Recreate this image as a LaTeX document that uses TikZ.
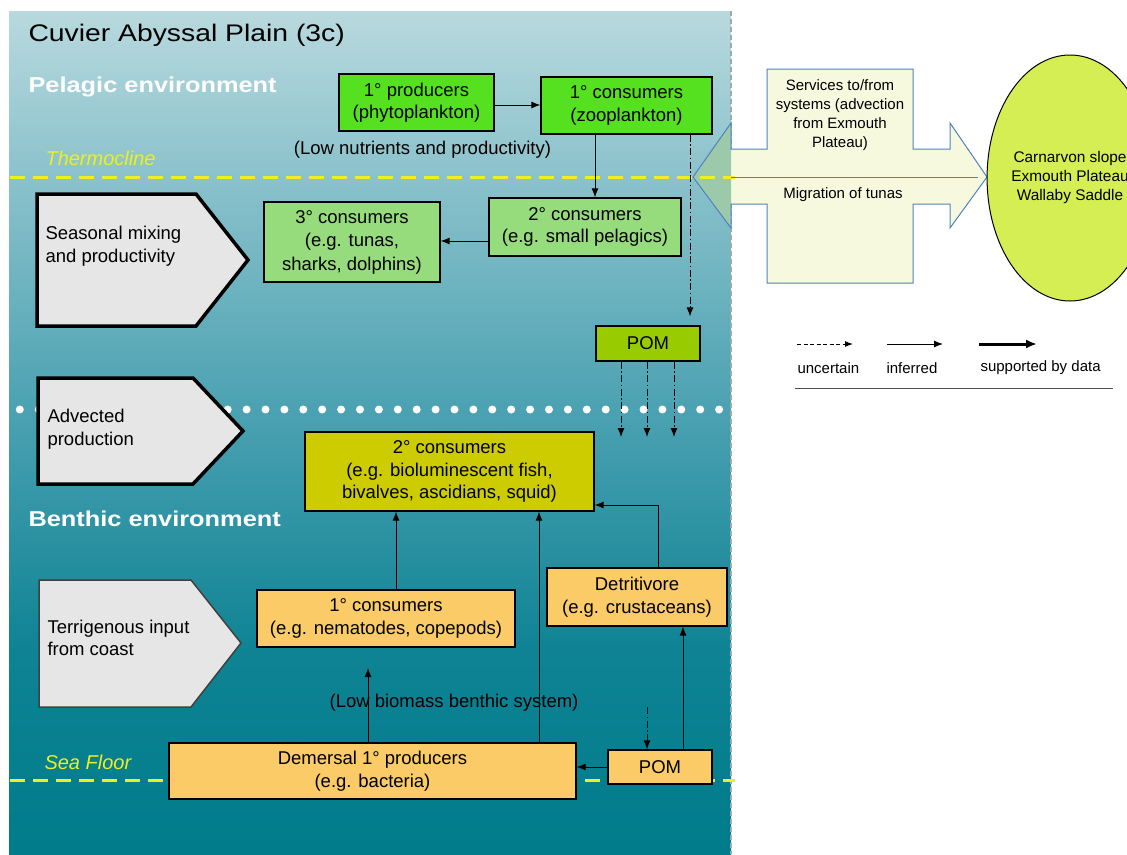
\documentclass[tikz,border=0pt]{standalone}
\usepackage{fontspec}
\setmainfont{Liberation Sans}
\newfontfamily\headfont{Liberation Sans}[FakeStretch=1.18]
\usetikzlibrary{arrows.meta,shapes.geometric,calc}

\definecolor{seaA}{HTML}{B8D9DE}
\definecolor{seaB}{HTML}{4EA3B3}
\definecolor{seaC}{HTML}{0E8394}
\definecolor{seaD}{HTML}{007C8B}
\definecolor{bgreen}{HTML}{55E020}
\definecolor{lgreen}{HTML}{96DC7D}
\definecolor{pomgreen}{HTML}{99CC00}
\definecolor{olive}{HTML}{CCCC00}
\definecolor{sand}{HTML}{FACB67}
\definecolor{pale}{HTML}{E6E6E6}
\definecolor{lime}{HTML}{D4EE54}
\definecolor{cream}{HTML}{F6F9DE}
\definecolor{sage}{HTML}{9CC9AA}
\definecolor{steel}{HTML}{4F81BD}
\definecolor{marker}{HTML}{EEEE22}

\pgfdeclareverticalshading{sea}{100bp}{color(0bp)=(seaD); color(25bp)=(seaD); color(37bp)=(seaC); color(52bp)=(seaB); color(75bp)=(seaA); color(100bp)=(seaA)}

\tikzset{
  txt/.style={font=\fontsize{18.5}{22.5}\selectfont},
  small/.style={font=\fontsize{15}{19}\selectfont},
  box/.style={draw=black, line width=1.2pt, align=center, inner sep=0pt, txt},
  pent/.style={fill=pale, draw=black, line width=3.5pt, line join=miter},
  penthin/.style={fill=pale, draw=black!75, line width=1.5pt},
  layerline/.style={draw=marker, line width=3pt, dash pattern=on 15pt off 8pt},
  conn/.style={-{Latex[length=9pt,width=7pt]}, line width=1pt},
  dd/.style={conn, dash pattern=on 7pt off 2.5pt on 1.5pt off 2.5pt},
  lbl/.style={anchor=west, txt, align=left},
  services/.style={insert path={(693,177) -- (731,123) -- (731,149) -- (767,149) -- (767,69) -- (913,69) -- (913,149)
  -- (950,149) -- (950,123) -- (987,177) -- (950,228) -- (950,204) -- (913,204)
  -- (913,283) -- (767,283) -- (767,204) -- (731,204) -- (731,228) -- cycle}},
}

\begin{document}
\begin{tikzpicture}[x=1pt,y=-1pt]
\useasboundingbox (0,0) rectangle (1127,854);
\clip (0,0) rectangle (1127,854);

% water column
\shade[shading=sea] (9,11) rectangle (731,854);
\draw[gray!70, line width=1.2pt, dash pattern=on 5pt off 3pt] (731,11) -- (731,854);

% services arrow to neighbouring systems (tinted where it enters the water column)
\fill[cream, services];
\begin{scope}
  \clip (600,0) rectangle (731,854);
  \fill[sage, services];
\end{scope}
\draw[steel, line width=1pt, line join=miter, services];

% thermocline, sea floor and the advection boundary
\draw[layerline] (10,177) -- (735,177);
\draw[layerline] (10,780) -- (735,780);
\draw[steel, line width=1pt] (731,177) -- (978,177);
\foreach \i in {0,...,37} \fill[white] (19.8+18.9*\i,409.5) circle[radius=4pt];

% headings
\node[anchor=west, font=\headfont\fontsize{24}{28}\selectfont] (title) at (25,35) {Cuvier Abyssal Plain (3c)};
\node[anchor=west, white, font=\headfont\bfseries\fontsize{21.5}{25}\selectfont] (pelagic) at (25,87) {Pelagic environment};
\node[anchor=west, white, font=\headfont\bfseries\fontsize{21.5}{25}\selectfont] (benthic) at (25,519) {Benthic environment};
\node[anchor=west, marker, font=\itshape\fontsize{20}{22}\selectfont] (thermo) at (42,158) {Thermocline};
\node[anchor=west, marker, font=\itshape\fontsize{20}{22}\selectfont] (floor) at (41,762) {Sea Floor};

% driver pentagons
\draw[pent] (37,194) -- (196,194) -- (248,260) -- (196,326) -- (37,326) -- cycle;
\node[lbl] (mixing) at (42,246) {Seasonal mixing\\and productivity};
\draw[pent] (38,378) -- (193,378) -- (243,431) -- (193,484) -- (38,484) -- cycle;
\node[lbl] (advected) at (44,429) {Advected\\production};
\draw[penthin] (39,580) -- (191,580) -- (241,643) -- (191,707) -- (39,707) -- cycle;
\node[lbl] (terrig) at (44,638) {Terrigenous input\\from coast};

\node[small, align=center] (servtext) at (840,115.5) {Services to/from\\systems (advection\\from Exmouth\\Plateau)};
\node[small] (tunas) at (843,195) {Migration of tunas};

\node[ellipse, draw=black, line width=1pt, fill=lime, minimum width=158pt, minimum height=246pt, inner sep=0pt, align=center, font=\fontsize{15.4}{19}\selectfont] (systems) at (1070,178) {Carnarvon slope\\Exmouth Plateau\\Wallaby Saddle};

% pelagic boxes
\node[box, fill=bgreen, minimum width=155pt, minimum height=57pt] (prod1) at (416.5,102.5) {1° producers\\(phytoplankton)};
\node[box, fill=bgreen, minimum width=171pt, minimum height=57pt] (cons1) at (626.5,105.5) {1° consumers\\(zooplankton)};
\node[txt] (lownut) at (422.5,150) {(Low nutrients and productivity)};
\node[box, fill=lgreen, minimum width=192pt, minimum height=58pt] (cons2p) at (585,227) {2° consumers\\(e.g. small pelagics)};
\node[box, fill=lgreen, minimum width=176pt, minimum height=80pt, font=\fontsize{18.5}{23.5}\selectfont] (cons3p) at (352,242) {3° consumers\\(e.g. tunas,\\sharks, dolphins)};
\node[box, fill=pomgreen, minimum width=104pt, minimum height=35pt] (pomp) at (648,343.5) {POM};

% benthic boxes
\node[box, fill=olive, minimum width=289pt, minimum height=79pt] (cons2b) at (449.5,471.5) {2° consumers\\(e.g. bioluminescent fish,\\bivalves, ascidians, squid)};
\node[box, fill=sand, minimum width=258pt, minimum height=57pt] (cons1b) at (386,618.5) {1° consumers\\(e.g. nematodes, copepods)};
\node[box, fill=sand, minimum width=180pt, minimum height=58pt] (detr) at (637,597) {Detritivore\\(e.g. crustaceans)};
\node[box, fill=sand, minimum width=407pt, minimum height=56pt] (dem) at (372.5,771) {Demersal 1° producers\\(e.g. bacteria)};
\node[box, fill=sand, minimum width=104pt, minimum height=34pt] (pomb) at (660,767) {POM};
\node[txt] (lowbio) at (454,703) {(Low biomass benthic system)};

% guide points for connector columns
\coordinate (xz) at (595,0);
\coordinate (xu) at (690,0);
\coordinate (xa) at (621,0);
\coordinate (xb) at (647,0);
\coordinate (xc) at (674,0);
\coordinate (dropa) at (621,437);
\coordinate (dropb) at (647,437);
\coordinate (dropc) at (674,437);
\coordinate (x1) at (396,0);
\coordinate (x2) at (539,0);
\coordinate (knee) at (658,505);
\coordinate (lowtip) at (368,668);
\coordinate (x5) at (683,0);
\coordinate (ddstart) at (647,707);

% pelagic flows
\draw[conn] ([yshift=-2.5pt]prod1.east) -- ([yshift=-2.5pt]prod1.east -| cons1.west);
\draw[conn] (cons1.south -| xz) -- (cons2p.north -| xz);
\draw[conn] ([yshift=-14pt]cons2p.west) -- ([yshift=-14pt]cons2p.west -| cons3p.east);
\draw[dd, shorten >=9pt] (cons1.south -| xu) -- (pomp.north -| xu);
\draw[dd] (pomp.south -| xa) -- (dropa);
\draw[dd] (pomp.south -| xb) -- (dropb);
\draw[dd] (pomp.south -| xc) -- (dropc);

% benthic flows
\draw[conn] (cons1b.north -| x1) -- (cons2b.south -| x1);
\draw[conn] (dem.north -| x2) -- (cons2b.south -| x2);
\draw[conn] (detr.north -| knee) -- (knee) -- (knee -| cons2b.east);
\draw[conn] (dem.north -| lowtip) -- (lowtip);
\draw[conn] (pomb.north -| x5) -- (detr.south -| x5);
\draw[dd] (ddstart) -- (pomb.north -| ddstart);
\draw[conn] (pomb.west) -- (pomb.west -| dem.east);

% key
\coordinate (k1a) at (797,344); \coordinate (k1b) at (853,344);
\coordinate (k2a) at (887,344); \coordinate (k2b) at (943,344);
\coordinate (k3a) at (979,344); \coordinate (k3b) at (1037,344);
\draw[-{Latex[length=8pt,width=6pt]}, line width=1pt, dash pattern=on 4pt off 2.5pt] (k1a) -- (k1b);
\draw[conn] (k2a) -- (k2b);
\draw[-{Latex[length=11pt,width=9pt]}, line width=3pt] (k3a) -- (k3b);
\node[small, anchor=west] (kun) at (794,368) {uncertain};
\node[small, anchor=west] (kin) at (883,368) {inferred};
\node[small, anchor=west] (ksu) at (977,368) {supported by data};
\coordinate (rulea) at (795,388); \coordinate (ruleb) at (1113,388);
\draw[black!70, line width=1pt] (rulea) -- (ruleb);
\end{tikzpicture}
\end{document}
